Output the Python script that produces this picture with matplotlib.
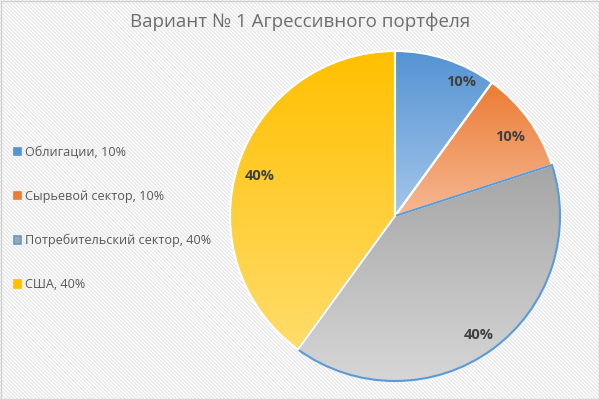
import matplotlib.pyplot as plt
import numpy as np
from matplotlib.patches import Rectangle
from matplotlib.colors import LinearSegmentedColormap

plt.rcParams['font.family'] = ['Open Sans', 'DejaVu Sans']
plt.rcParams['hatch.linewidth'] = 1.0

categories = ['Облигации', 'Сырьевой сектор', 'Потребительский сектор', 'США']
shares = [10, 10, 40, 40]
top_colors = ['#5593d3', '#ec7c34', '#a5a5a5', '#ffc000']
bottom_colors = ['#a4c6ea', '#f6b894', '#d6d6d6', '#ffdc6a']
title = 'Вариант № 1 Агрессивного портфеля'

fig = plt.figure(figsize=(6, 3.99), dpi=100)

# фон с диагональной штриховкой
fig.patches.append(Rectangle((0, 0), 1, 1, transform=fig.transFigure,
                             facecolor='white', edgecolor='#e8e8e8',
                             hatch='\\' * 9, lw=0, zorder=-10))
fig.patches.append(Rectangle((0.001, 0.001), 0.998, 0.997, transform=fig.transFigure,
                             facecolor='none', edgecolor='#d0d0d0', lw=1, zorder=-9))

ax = fig.add_axes([0, 0, 1, 1])
ax.set_xlim(0, 600)
ax.set_ylim(0, 399)
ax.set_aspect('equal')
ax.set_axis_off()

wedges, texts, autotexts = ax.pie(
    shares, startangle=90, counterclock=False, center=(395, 183), radius=165,
    colors=top_colors, autopct='%d%%', pctdistance=0.86,
    wedgeprops=dict(edgecolor='white', linewidth=1.5),
    textprops=dict(fontsize=10.5, fontweight='bold', color='#404040'))

# вертикальный градиент в каждом секторе
for w, c1, c2 in zip(wedges, top_colors, bottom_colors):
    bb = w.get_path().get_extents(w.get_patch_transform())
    cmap = LinearSegmentedColormap.from_list('g', [c2, c1])
    grad = np.linspace(0, 1, 256).reshape(-1, 1)
    im = ax.imshow(grad, cmap=cmap, origin='lower', aspect='auto',
                   extent=[bb.x0, bb.x1, bb.y0, bb.y1], zorder=w.get_zorder() - 0.1)
    im.set_clip_path(w)
    w.set_facecolor('none')
    w.set_zorder(w.get_zorder() + 0.2)

# выделенный сектор с синей рамкой
wedges[2].set_edgecolor('#5b9bd5')
wedges[2].set_linewidth(1.5)
for t in autotexts:
    t.set_zorder(5)
    x, y = t.get_position()
    t.set_position((x, y - 4))

# подпись первого сектора Excel сдвигает ближе к краю
w0 = wedges[0]
a = np.deg2rad(64)
autotexts[0].set_position((w0.center[0] + 0.92 * w0.r * np.cos(a),
                           w0.center[1] + 0.92 * w0.r * np.sin(a) - 2))

ax.set_xlim(0, 600)
ax.set_ylim(0, 399)

handles = [Rectangle((0, 0), 1, 1, facecolor=c, edgecolor=('#5b9bd5' if i == 2 else c), lw=1.2)
           for i, c in enumerate(top_colors)]
labels = [f'{c}, {v}%' for c, v in zip(categories, shares)]
fig.legend(handles, labels, loc='center left', bbox_to_anchor=(0.004, 0.452),
           frameon=False, fontsize=9.1, labelcolor='#595959',
           handlelength=0.55, handleheight=0.55, handletextpad=0.3,
           labelspacing=2.45)

fig.text(0.5, 0.945, title, ha='center', va='center', fontsize=13.5, color='#6e6e6e')

fig.savefig('out.png', dpi=100)
